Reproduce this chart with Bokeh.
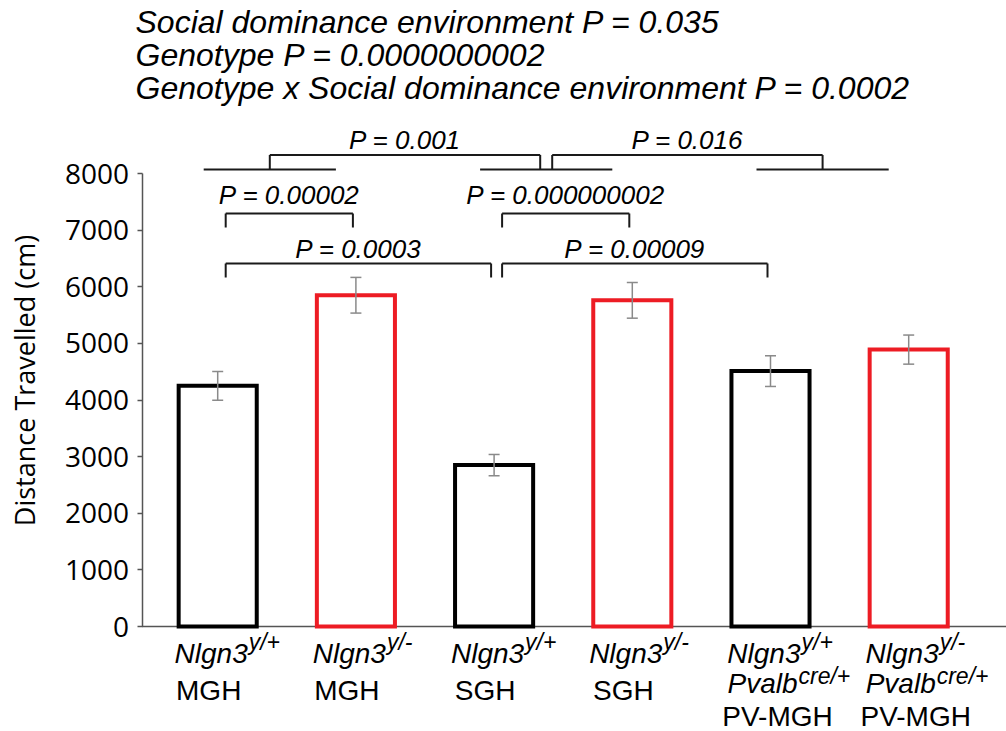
import math
from bokeh.plotting import figure
from bokeh.models import Range1d, Whisker, TeeHead, ColumnDataSource, FixedTicker, Label
from bokeh.embed import file_html
from bokeh.resources import INLINE
from bokeh.core.properties import value

# ---------------- data ----------------
gene = ["Nlgn3", "Nlgn3", "Nlgn3", "Nlgn3", "Nlgn3", "Nlgn3"]
genotype = ["y/+", "y/-", "y/+", "y/-", "y/+", "y/-"]
driver = ["", "", "", "", "Pvalb", "Pvalb"]
driver_sup = ["", "", "", "", "cre/+", "cre/+"]
housing = ["MGH", "MGH", "SGH", "SGH", "PV-MGH", "PV-MGH"]
distance = [4250, 5850, 2850, 5760, 4510, 4890]
sem = [255, 315, 188, 315, 271, 257]
y_ticks = [0, 1000, 2000, 3000, 4000, 5000, 6000, 7000, 8000]
y_title = "Distance Travelled (cm)"

# pairwise comparisons (bar numbers, 1-based)
pair_left = [1, 3, 1, 3]
pair_right = [2, 4, 3, 5]
pair_p = ["P = 0.00002", "P = 0.000000002", "P = 0.0003", "P = 0.00009"]
pair_tier = [2, 2, 1, 1]

# housing group comparisons
group_first = [1, 3, 5]
group_last = [2, 4, 6]
gcomp_left = [0, 1]
gcomp_right = [1, 2]
gcomp_p = ["P = 0.001", "P = 0.016"]

anova_lines = [
    "Social dominance environment P = 0.035",
    "Genotype P = 0.0000000002",
    "Genotype x Social dominance environment P = 0.0002",
]

# ---------------- layout ----------------
W, H = 1006, 731
AXIS_PX = 141.5
ZERO_PX, TOP_PX = 626, 173
PPU_Y = (ZERO_PX - TOP_PX) / 8000.0
PPU_X = 138.2
FIRST_BAR_PX = 217.2
x_start = 1 - FIRST_BAR_PX / PPU_X
x_end = x_start + W / PPU_X
y_start = -(H - ZERO_PX) / PPU_Y
y_end = ZERO_PX / PPU_Y
BASE_FIX = 0.34  # renderer baseline correction, in em


def yd(px, size=0):
    return (ZERO_PX - (px - BASE_FIX * size)) / PPU_Y


def xd(px):
    return px / PPU_X


def xabs(px):
    return x_start + px / PPU_X


ARIAL = value("Liberation Sans")
RED = "#ED1C24"
AX = "#555555"

n = len(distance)
xs = list(range(1, n + 1))
colors = [RED if g.endswith("-") else "black" for g in genotype]

p = figure(width=W, height=H, output_backend="svg", toolbar_location=None,
           x_range=Range1d(x_start, x_end), y_range=Range1d(y_start, y_end),
           x_axis_location=None, min_border_left=0, min_border_right=0,
           min_border_top=0, min_border_bottom=0)
p.xgrid.visible = False
p.ygrid.visible = False
p.outline_line_color = None
p.background_fill_color = "white"

# baseline (x axis line)
p.segment(x0=[xabs(AXIS_PX)], y0=[0], x1=[x_end], y1=[0], line_color=AX, line_width=1.5)

src = ColumnDataSource(dict(x=xs, top=distance, color=colors,
                            upper=[d + s for d, s in zip(distance, sem)],
                            lower=[d - s for d, s in zip(distance, sem)]))
p.vbar(x="x", top="top", bottom=0, width=0.565, source=src, fill_color="white",
       line_color="color", line_width=4, line_join="miter")

EB = "#8a8a8a"
p.add_layout(Whisker(source=src, base="x", upper="upper", lower="lower",
                     line_color=EB, line_width=1.5, level="overlay",
                     upper_head=TeeHead(size=11, line_color=EB, line_width=1.5),
                     lower_head=TeeHead(size=11, line_color=EB, line_width=1.5)))

# ---------------- brackets ----------------
BR = "#1a1a1a"
PSIZE = 26
tier_bar_px = {1: 263, 2: 213}
tier_text_px = {1: 257, 2: 203}
LEG_PX = 14
bx0, bx1, by0, by1 = [], [], [], []
tx, ty, tt = [], [], []
for l, r, t, lab in zip(pair_left, pair_right, pair_tier, pair_p):
    xl = l + xd(8)
    xr = r - xd(3)
    yt = yd(tier_bar_px[t])
    yb = yd(tier_bar_px[t] + LEG_PX)
    bx0 += [xl, xl, xr]; bx1 += [xr, xl, xr]
    by0 += [yt, yt, yt]; by1 += [yt, yb, yb]
    tx.append((xl + xr) / 2); ty.append(yd(tier_text_px[t], PSIZE)); tt.append(lab)

GROUP_LINE_PX, GROUP_BR_PX, GROUP_TEXT_PX = 169, 154.5, 148
gl = [a - xd(14) for a in group_first]
gr = [b - xd(20) for b in group_last]
gmid = [(a + b) / 2 for a, b in zip(gl, gr)]
for a, b in zip(gl, gr):
    bx0.append(a); bx1.append(b)
    by0.append(yd(GROUP_LINE_PX)); by1.append(yd(GROUP_LINE_PX))
for li, ri, lab in zip(gcomp_left, gcomp_right, gcomp_p):
    xl = gmid[li] + (xd(6) if li == 1 else 0)
    xr = gmid[ri] - (xd(6) if ri == 1 else 0)
    yt = yd(GROUP_BR_PX)
    yb = yd(GROUP_LINE_PX)
    bx0 += [xl, xl, xr]; bx1 += [xr, xl, xr]
    by0 += [yt, yt, yt]; by1 += [yt, yb, yb]
    tx.append((xl + xr) / 2); ty.append(yd(GROUP_TEXT_PX, PSIZE)); tt.append(lab)

p.segment(x0=bx0, y0=by0, x1=bx1, y1=by1, line_color=BR, line_width=2)
p.text(x=tx, y=ty, text=tt, text_font=ARIAL, text_font_style="italic",
       text_font_size=f"{PSIZE}px", text_align="center", text_baseline="alphabetic",
       text_color="black")

# ---------------- category labels ----------------
BIG, SUP = 28, 23
g_x, g_y, g_t = [], [], []
gs_x, gs_y, gs_t = [], [], []
d_x, d_y, d_t = [], [], []
ds_x, ds_y, ds_t = [], [], []
h_x, h_y, h_t = [], [], []
for i in range(n):
    x = xs[i]
    g_x.append(x + xd(30)); g_y.append(yd(663, BIG)); g_t.append(gene[i])
    gs_x.append(x + xd(31)); gs_y.append(yd(649, SUP)); gs_t.append(genotype[i])
    if driver[i]:
        d_x.append(x + xd(27)); d_y.append(yd(693, BIG)); d_t.append(driver[i])
        ds_x.append(x + xd(28)); ds_y.append(yd(683, SUP)); ds_t.append(driver_sup[i])
        h_x.append(x + xd(7)); h_y.append(yd(726, BIG)); h_t.append(housing[i])
    else:
        h_x.append(x - xd(9)); h_y.append(yd(700, BIG)); h_t.append(housing[i])

common = dict(text_font=ARIAL, text_baseline="alphabetic", text_color="black")
p.text(x=g_x, y=g_y, text=g_t, text_font_size=f"{BIG}px", text_font_style="italic",
       text_align="right", **common)
p.text(x=gs_x, y=gs_y, text=gs_t, text_font_size=f"{SUP}px", text_font_style="italic",
       text_align="left", **common)
p.text(x=d_x, y=d_y, text=d_t, text_font_size=f"{BIG}px", text_font_style="italic",
       text_align="right", **common)
p.text(x=ds_x, y=ds_y, text=ds_t, text_font_size=f"{SUP}px", text_font_style="italic",
       text_align="left", **common)
p.text(x=h_x, y=h_y, text=h_t, text_font_size=f"{BIG}px", text_align="center", **common)

# ---------------- ANOVA summary ----------------
TOP = 32
for line, base_px in zip(anova_lines, [32, 65, 98]):
    p.add_layout(Label(x=xabs(135), y=yd(base_px, TOP), text=line,
                       text_font="Liberation Sans", text_font_style="italic",
                       text_font_size=f"{TOP}px", text_align="left",
                       text_baseline="alphabetic", text_color="black"))

# ---------------- y axis ----------------
ya = p.yaxis[0]
ya.fixed_location = xabs(AXIS_PX)
ya.ticker = FixedTicker(ticks=y_ticks)
ya.bounds = (0, 8000)
ya.axis_line_color = AX
ya.axis_line_width = 1.5
ya.major_tick_line_color = AX
ya.major_tick_line_width = 1.5
ya.major_tick_out = 5
ya.major_tick_in = 0
ya.minor_tick_line_color = None
ya.major_label_text_font = "Open Sans"
ya.major_label_text_font_size = "28px"
ya.major_label_text_color = "black"
ya.major_label_standoff = 8

p.add_layout(Label(x=xabs(24), y=yd(380), text=y_title, angle=math.pi / 2,
                   text_font="Open Sans", text_font_size="27px",
                   text_align="center", text_baseline="middle", text_color="black"))

open("out.html", "w").write(file_html(p, INLINE))
